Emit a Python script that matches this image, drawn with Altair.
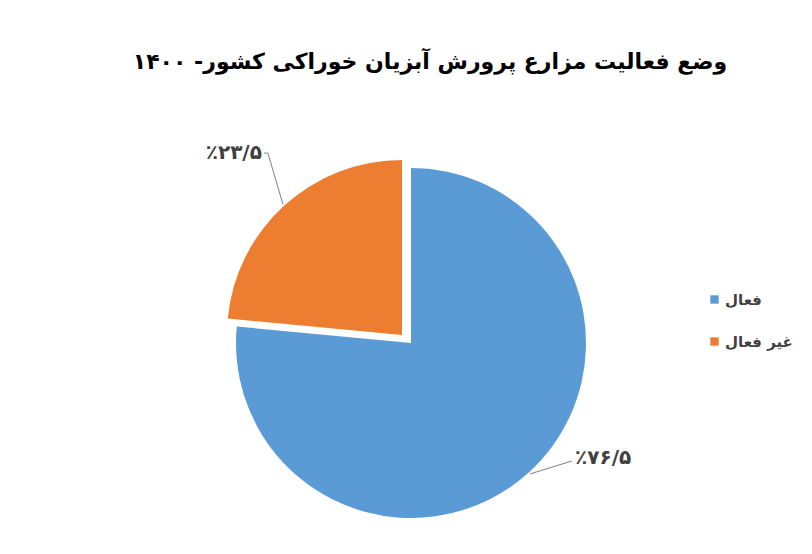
import altair as alt
import pandas as pd

# ---- data ----
categories = ["فعال", "غیر فعال"]
shares = [76.5, 23.5]
share_labels = ["٪۷۶/۵", "٪۲۳/۵"]
colors = ["#5B9BD5", "#ED7D31"]
title_text = "وضع فعالیت مزارع پرورش آبزیان خوراکی کشور- ۱۴۰۰"

df = pd.DataFrame({"cat": categories, "share": shares, "label": share_labels,
                   "order": list(range(len(categories)))})

# ---- layout constants (styles) ----
W, H = 400, 400
CX, CY = W / 2, H / 2
R = 175           # pie radius
RL = 177          # leader start radius
EXP_X, EXP_Y = -9, -8  # explode offset of the orange slice
FONT = "DejaVu Sans"

base = alt.Chart(df).transform_window(
    end="sum(share)", sort=[alt.SortField("order")], frame=[None, 0]
).transform_calculate(
    start="datum.end - datum.share",
    mid="(datum.end - datum.share / 2) * 2 * PI / 100",
)

theta_scale = alt.Scale(domain=[0, 100])
color_enc = alt.Color(
    "cat:N",
    scale=alt.Scale(domain=categories, range=colors),
    legend=alt.Legend(
        title=None, orient="none", legendX=496, legendY=149,
        symbolType="square", symbolSize=70, symbolStrokeWidth=0,
        labelFontSize=15, labelFont=FONT, labelFontWeight="bold",
        labelColor="#404040", rowPadding=26, labelOffset=3,
    ),
    sort=categories,
)


def slice_arc(i, dx, dy):
    return base.transform_filter(alt.datum.cat == categories[i]).mark_arc(
        outerRadius=R, xOffset=dx, yOffset=dy
    ).encode(
        theta=alt.Theta("start:Q", scale=theta_scale),
        theta2="end:Q",
        color=color_enc,
    )


def leader(i, cx, cy, ddx, ddy, tdx, tdy, align):
    sel = base.transform_filter(alt.datum.cat == categories[i]).transform_calculate(
        px=f"{cx} + {RL} * sin(datum.mid)",
        py=f"{cy} - {RL} * cos(datum.mid)",
    ).transform_calculate(
        ex=f"datum.px + ({ddx})",
        ey=f"datum.py + ({ddy})",
    ).transform_calculate(
        tx=f"datum.ex + ({tdx})",
        ty=f"datum.ey + ({tdy})",
    )
    line = sel.mark_rule(color="#808080", strokeWidth=1).encode(
        x=alt.X("px:Q", scale=None), y=alt.Y("py:Q", scale=None),
        x2="ex:Q", y2="ey:Q",
    )
    text = sel.mark_text(
        align=align, baseline="middle", font=FONT, fontSize=20,
        fontWeight="bold", color="#404040",
    ).encode(
        x=alt.X("tx:Q", scale=None), y=alt.Y("ty:Q", scale=None), text="label:N"
    )
    layers = [line, text]
    if align == "right":
        stub = sel.mark_rule(color="#808080", strokeWidth=1).encode(
            x=alt.X("ex:Q", scale=None), y=alt.Y("ey:Q", scale=None),
            x2="stubx:Q", y2="ey:Q",
        ).transform_calculate(stubx="datum.tx + 2")
        layers.append(stub)
    return layers


layers = [
    slice_arc(0, 0, 0),
    slice_arc(1, EXP_X, EXP_Y),
] + leader(0, CX, CY, 42, -13, 3, -3, "left") \
  + leader(1, CX + EXP_X, CY + EXP_Y, -15, -51, -6, 0, "right")

chart = alt.layer(*layers).properties(
    width=W, height=H,
    title=alt.TitleParams(
        title_text, font=FONT, fontSize=22, fontWeight="bold", color="#000000",
        anchor="middle", dx=19, offset=69,
    ),
    autosize=alt.AutoSizeParams(type="none"),
    padding={"left": 203, "top": 135, "right": 193, "bottom": 3},
    background="white",
).configure_view(stroke=None)

chart.save("out.html", embed_options={"renderer": "svg", "actions": False})
